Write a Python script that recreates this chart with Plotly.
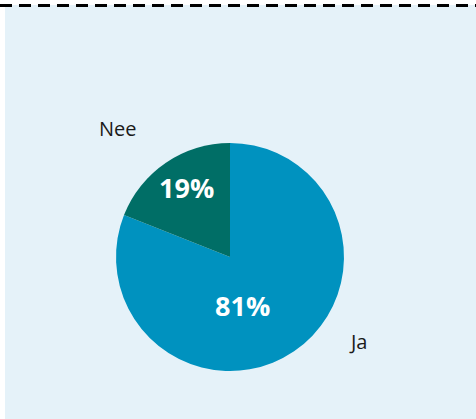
import plotly.graph_objects as go

labels = ["Ja", "Nee"]
values = [81, 19]
colors = ["#0092bf", "#006e66"]

W, H = 476, 419
cx, cy, r = 230, 257, 114

fig = go.Figure(go.Pie(
    labels=labels, values=values, sort=False, direction="clockwise", rotation=0,
    marker=dict(colors=colors, line=dict(width=0)),
    textinfo="none",
    domain=dict(x=[(cx - r) / W, (cx + r) / W], y=[(H - cy - r) / H, (H - cy + r) / H]),
    hoverinfo="label+percent", showlegend=False,
))

fig.add_shape(type="rect", xref="paper", yref="paper", x0=5 / W, x1=1, y0=0, y1=1 - 5 / H,
              fillcolor="#e5f2f9", line=dict(width=0), layer="below")
fig.add_shape(type="line", xref="paper", yref="paper", x0=0, x1=1, y0=1 - 5.5 / H, y1=1 - 5.5 / H,
              line=dict(color="black", width=3, dash="12px,7px"))

# percentage labels inside slices
pct_pos = {"Ja": (242, 305), "Nee": (186, 187)}
for lab, v in zip(labels, values):
    px, py = pct_pos[lab]
    fig.add_annotation(text=f"<b>{v}%</b>", x=px / W, y=1 - py / H, xref="paper", yref="paper",
                       xanchor="center", yanchor="middle", showarrow=False,
                       font=dict(family="Open Sans", size=27, color="white"))

# outside category labels
lab_pos = {"Nee": (118, 128), "Ja": (358, 341)}
for lab in labels:
    px, py = lab_pos[lab]
    fig.add_annotation(text=lab, x=px / W, y=1 - py / H, xref="paper", yref="paper",
                       xanchor="center", yanchor="middle", showarrow=False,
                       font=dict(family="Open Sans", size=20, color="#1a1a1a"))

fig.update_layout(width=W, height=H, margin=dict(l=0, r=0, t=0, b=0),
                  paper_bgcolor="white", plot_bgcolor="white")
fig.write_html("out.html", config={"displayModeBar": False},
               post_script="document.body.style.margin='0';")
